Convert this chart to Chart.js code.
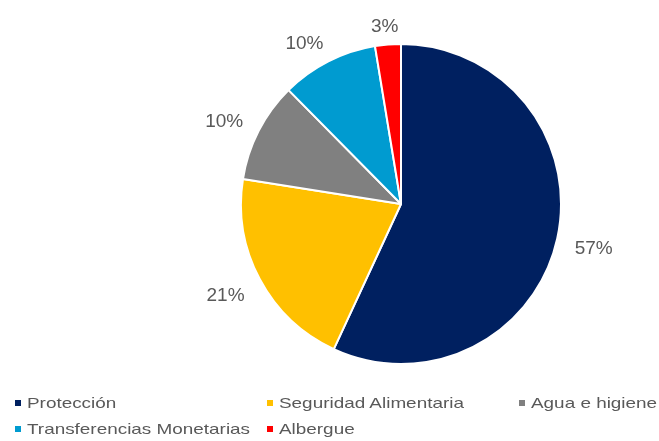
<!DOCTYPE html>
<html>
<head>
<meta charset="utf-8">
<script src="https://cdn.jsdelivr.net/npm/chart.js@4"></script>
<style>
  html, body { margin: 0; padding: 0; background: #fff; overflow: hidden; }
  #wrap { position: relative; width: 659px; height: 441px; }
  #c { position: absolute; left: 0; top: 0; }
  .leg { position: absolute; font-family: "Liberation Sans", Arial, sans-serif; font-size: 15px; color: #595959; white-space: nowrap; line-height: 18px; }
  .leg i { position: absolute; left: 0; top: 6px; width: 6px; height: 6px; }
  .leg span { position: absolute; left: 12px; top: 0; display: inline-block; transform: scaleX(1.26); transform-origin: 0 0; }
</style>
</head>
<body>
<div id="wrap">
  <canvas id="c" width="659" height="441"></canvas>
</div>
<script>
const categories = ["Protección", "Seguridad Alimentaria", "Agua e higiene", "Transferencias Monetarias", "Albergue"];
const values = [56.9, 20.6, 10.1, 9.8, 2.6];
const colors = ["#002060", "#FFC000", "#808080", "#009BD0", "#FF0000"];

// legend placement (layout only)
const legendPos = [[15, 394], [267, 394], [519, 394], [15, 420], [267, 420]];
const wrap = document.getElementById('wrap');
categories.forEach((name, i) => {
  const d = document.createElement('div');
  d.className = 'leg';
  d.style.left = legendPos[i][0] + 'px';
  d.style.top = legendPos[i][1] + 'px';
  const sw = document.createElement('i');
  sw.style.background = colors[i];
  d.appendChild(sw);
  const t = document.createElement('span');
  t.textContent = name;
  d.appendChild(t);
  wrap.appendChild(d);
});

const outsideLabels = {
  id: 'outsideLabels',
  afterDatasetsDraw(chart) {
    const ctx = chart.ctx;
    const meta = chart.getDatasetMeta(0);
    const data = chart.data.datasets[0].data;
    const total = data.reduce((a, b) => a + b, 0);
    ctx.save();
    ctx.font = '19px "Liberation Sans", Arial, sans-serif';
    ctx.fillStyle = '#595959';
    ctx.textAlign = 'center';
    ctx.textBaseline = 'middle';
    meta.data.forEach((arc, i) => {
      const p = arc.getProps(['x', 'y', 'startAngle', 'endAngle', 'outerRadius'], true);
      const mid = (p.startAngle + p.endAngle) / 2;
      const dx = Math.cos(mid), dy = Math.sin(mid);
      const txt = Math.round(data[i] / total * 100) + '%';
      const w = ctx.measureText(txt).width;
      const h = 14;
      const gap = 12 + 6 * Math.abs(dx);
      const d = p.outerRadius + gap;
      const px = p.x + dx * d, py = p.y + dy * d;
      const fx = Math.sign(dx) * Math.min(1, Math.abs(dx) * 2);
      const extraY = dy > 0 ? 5 : 2;
      ctx.fillText(txt, px + fx * w / 2, py + dy * h / 2 + extraY);
    });
    ctx.restore();
  }
};

new Chart(document.getElementById('c'), {
  type: 'pie',
  data: {
    labels: categories,
    datasets: [{
      data: values,
      backgroundColor: colors,
      borderColor: '#ffffff',
      borderWidth: 2
    }]
  },
  options: {
    responsive: false,
    devicePixelRatio: 1,
    animation: false,
    layout: { padding: { left: 240, right: 97, top: 43, bottom: 76 } },
    plugins: {
      legend: { display: false },
      tooltip: { enabled: false }
    }
  },
  plugins: [outsideLabels]
});
</script>
</body>
</html>
